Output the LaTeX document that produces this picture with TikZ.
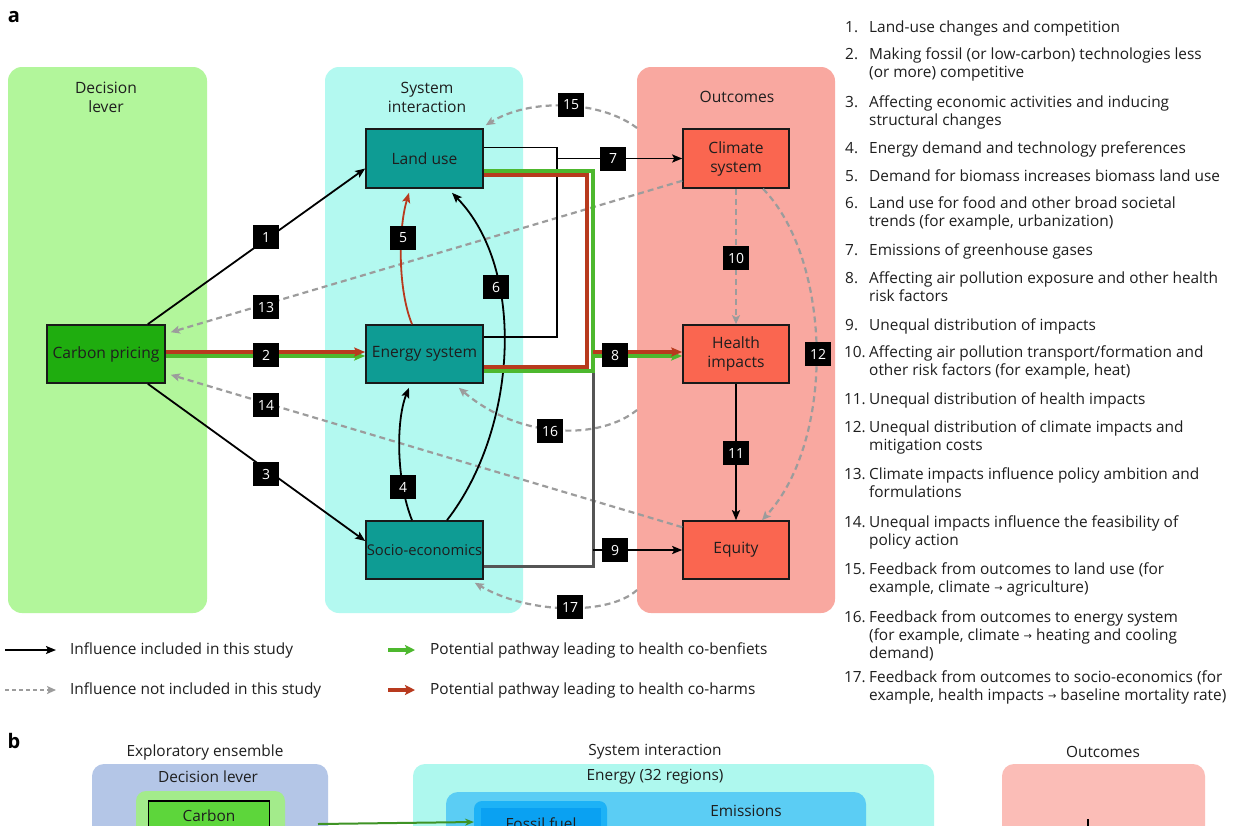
\documentclass[tikz,border=0pt]{standalone}
\usepackage{fontspec}
\setmainfont{Open Sans}
\newfontfamily\symf{DejaVu Sans}
\usetikzlibrary{arrows.meta,calc}
\newcommand\myfs{\fontsize{15.4}{18}\selectfont}
\newcommand\boxfs{\fontsize{15.6}{19}\selectfont}
\newcommand\labfs{\fontsize{14}{14}\selectfont}
\newcommand\legfs{\fontsize{15.4}{18}\selectfont}
\newcommand\panfs{\fontsize{20}{20}\selectfont\bfseries}
\newcommand\rarr{{\symf\fontsize{10}{10}\selectfont\raisebox{1pt}{→}}}
\definecolor{lvbg}{HTML}{B2F69B}
\definecolor{sibg}{HTML}{B3F9F0}
\definecolor{oubg}{HTML}{F9A8A0}
\definecolor{cpfill}{HTML}{1FAD0F}
\definecolor{sysbox}{HTML}{0E9C94}
\definecolor{outbox}{HTML}{FA6650}
\definecolor{harm}{HTML}{B83A1E}
\definecolor{bene}{HTML}{4DB82E}
\definecolor{dgray}{HTML}{9C9C9C}
\definecolor{mgray}{HTML}{555555}
\definecolor{txtc}{HTML}{1E1E1E}
\definecolor{bgblue}{HTML}{B4C6E7}
\definecolor{bglgreen}{HTML}{A3EB8B}
\definecolor{bcarbon}{HTML}{5DD63B}
\definecolor{bcyan}{HTML}{AEF8EE}
\definecolor{bblue}{HTML}{5BCDF4}
\definecolor{bfossa}{HTML}{1DB2F6}
\definecolor{bfossb}{HTML}{0AA1F2}
\definecolor{bpink}{HTML}{FBBDB7}
\tikzset{
  colbg/.style={rounded corners=14pt, inner sep=0pt, outer sep=0pt},
  coltitle/.style={font=\boxfs, align=center, text=txtc},
  sysnode/.style={draw=black!90, line width=1.6pt, fill=sysbox, minimum width=117pt, minimum height=58pt, inner sep=0pt, font=\boxfs, text=txtc, align=center},
  outnode/.style={sysnode, fill=outbox, minimum width=106pt},
  lab/.style={fill=black, text=white, minimum width=26pt, minimum height=24pt, inner sep=0pt, font=\labfs},
  arr/.style={line width=1.8pt, -{Stealth[length=10pt,width=8pt,inset=2pt]}},
  plainln/.style={line width=1.8pt},
  dsh/.style={draw=dgray, line width=2.2pt, dash pattern=on 6pt off 4pt, -{Stealth[length=9pt,width=8pt,inset=2pt]}},
  harmln/.style={draw=harm, line width=3.2pt},
  beneln/.style={draw=bene, line width=3.2pt},
  listtxt/.style={font=\myfs, text=txtc, inner sep=0pt, anchor=base west},
  legtxt/.style={font=\legfs, text=txtc, inner sep=0pt, anchor=west},
  btxt/.style={font=\myfs, text=txtc, inner sep=0pt}
}
\newcommand\Li[3]{\node[listtxt] (#1) at (869,#2) {#3};}
\newcommand\Ln[3]{\node[listtxt] (#1) at (845,#2) {#3};}
\newcommand\Lnn[3]{\node[listtxt, anchor=base east] (#1) at (866,#2) {#3};}
\begin{document}
\begin{tikzpicture}[x=1pt,y=-1pt]
\useasboundingbox (0,0) rectangle (1244,825);
\clip (0,0) rectangle (1244,825);
\fill[white] (0,0) rectangle (1244,825);

% panel label
\node[font=\panfs, inner sep=0pt] (pa) at (14,17) {a};

% column backgrounds
\node[colbg, fill=lvbg, minimum width=199pt, minimum height=546pt] (lvcol) at (107.5,340) {};
\node[colbg, fill=sibg, minimum width=198pt, minimum height=546pt] (sicol) at (424,340) {};
\node[colbg, fill=oubg, minimum width=198pt, minimum height=546pt] (oucol) at (736,340) {};
\node[coltitle] (lvt) at (106,97) {Decision\\lever};
\node[coltitle] (sit) at (427,97) {System\\interaction};
\node[coltitle] (out) at (737,97) {Outcomes};

% main nodes
\path (106,354) node[sysnode, fill=cpfill, minimum width=118pt] (cp) {Carbon pricing};
\path (424.5,158.5) node[sysnode, minimum height=59pt] (land) {Land use};
\path (424.5,354) node[sysnode] (energy) {Energy system};
\path (424.5,550) node[sysnode, font=\fontsize{14.8}{18}\selectfont] (socio) {Socio-economics};
\path (736,158.5) node[outnode, minimum height=59pt] (climate) {Climate\\system};
\path (736,354) node[outnode] (health) {Health\\impacts};
\path (736,550) node[outnode] (equity) {Equity};

% coordinates for free ends
\coordinate (o15) at (637,128);
\coordinate (o16) at (637,410);
\coordinate (o17) at (637,590);
\coordinate (j7) at (557,158.5);
\coordinate (j8g) at (593,356);
\coordinate (j8r) at (593,352);
\coordinate (j9) at (593,550);

% dashed influences (not included)
\draw[dsh] ([yshift=8pt]climate.south west) -- ([xshift=5pt,yshift=-8pt]cp.north east);
\draw[dsh] ([yshift=-7pt]equity.north west) -- ([xshift=5pt,yshift=9pt]cp.south east);
\draw[dsh] (o15) .. controls (600,100) and (530,98) .. ([xshift=2pt,yshift=3pt]land.north east);
\draw[dsh] (o16) .. controls (600,440) and (520,440) .. ([xshift=-25pt,yshift=-4pt]energy.south east);
\draw[dsh] (o17) .. controls (610,615) and (530,615) .. ([xshift=-9pt,yshift=-3pt]socio.south east);
\draw[dsh] (climate.south) -- (health.north);
\draw[dsh] ([xshift=27pt]climate.south) .. controls (832,260) and (836,440) .. ([xshift=26pt]equity.north);

% included influences
\draw[arr] ([xshift=-18pt]cp.north east) -- ([yshift=-10pt]land.west);
\draw[arr] ([xshift=-18pt]cp.south east) -- ([yshift=9pt]socio.west);
\draw[arr] ([xshift=-12.5pt]socio.north) .. controls (396,480) and (396,420) .. ([xshift=-15.5pt,yshift=-4pt]energy.south);
\draw[line width=1.8pt, draw=harm, -{Stealth[length=10pt,width=8pt,inset=2pt]}] ([xshift=-12.5pt]energy.north) .. controls (398,290) and (398,230) .. ([xshift=-15.5pt,yshift=-4pt]land.south);
\draw[arr] ([xshift=22.5pt]socio.north) .. controls (517,430) and (527,270) .. ([xshift=27.5pt,yshift=-4pt]land.south);

% 7 bracket
\draw[plainln] ([yshift=11pt]land.east) -- (557,147.5) -- (557,337) -- ([yshift=17pt]energy.east);
\draw[arr] (j7) -- (climate.west);

% 9 bracket (gray)
\draw[draw=mgray, line width=3pt] ([yshift=-16pt]socio.east) -- (593,566) -- (593,370);
\draw[arr] (j9) -- (equity.west);

% 8 pathways
\draw[beneln] ([yshift=-12.5pt]land.east) -- (593,171) -- (593,371) -- ([yshift=-17pt]energy.east);
\draw[harmln] ([yshift=-16.5pt]land.east) -- (587,175) -- (587,367) -- ([yshift=-13pt]energy.east);
\draw[beneln, -{Stealth[length=11pt,width=9pt,inset=2pt]}] (j8g) -- ([yshift=-2pt]health.west);
\draw[harmln, -{Stealth[length=11pt,width=9pt,inset=2pt]}] (j8r) -- ([yshift=2pt]health.west);

% 2 pathway
\draw[beneln, -{Stealth[length=11pt,width=9pt,inset=2pt]}] ([yshift=-2pt]cp.east) -- ([yshift=-2pt]energy.west);
\draw[harmln, -{Stealth[length=11pt,width=9pt,inset=2pt]}] ([yshift=2pt]cp.east) -- ([yshift=2pt]energy.west);

% 11
\draw[arr] (health.south) -- (equity.north);

% labels
\node[lab] (l1) at (266,237) {1};
\node[lab] (l2) at (266,355) {2};
\node[lab] (l3) at (266,474) {3};
\node[lab] (l4) at (403,487) {4};
\node[lab] (l5) at (403,238) {5};
\node[lab] (l6) at (496,287) {6};
\node[lab] (l7) at (613,158.5) {7};
\node[lab] (l8) at (615,355) {8};
\node[lab] (l9) at (615,550) {9};
\node[lab] (l10) at (736,258) {10};
\node[lab] (l11) at (736,453) {11};
\node[lab] (l12) at (818,354) {12};
\node[lab] (l13) at (266,307) {13};
\node[lab] (l14) at (266,405) {14};
\node[lab] (l15) at (571,105) {15};
\node[lab] (l16) at (550,431) {16};
\node[lab] (l17) at (570,607) {17};

% legend
\coordinate (g1a) at (5,650); \coordinate (g1b) at (56,650);
\coordinate (g2a) at (5,690); \coordinate (g2b) at (56,690);
\coordinate (g3a) at (388,650); \coordinate (g3b) at (415,650);
\coordinate (g4a) at (388,690); \coordinate (g4b) at (415,690);
\draw[arr, line width=1.6pt] (g1a) -- (g1b);
\draw[dsh, line width=1.8pt, dash pattern=on 4pt off 3pt] (g2a) -- (g2b);
\draw[draw=bene, line width=4pt, -{Stealth[length=10pt,width=10pt,inset=2pt]}] (g3a) -- (g3b);
\draw[draw=harm, line width=4pt, -{Stealth[length=10pt,width=10pt,inset=2pt]}] (g4a) -- (g4b);
\node[legtxt] (gt1) at (70,650) {Influence included in this study};
\node[legtxt] (gt2) at (70,690) {Influence not included in this study};
\node[legtxt] (gt3) at (430,650) {Potential pathway leading to health co-benfiets};
\node[legtxt] (gt4) at (430,690) {Potential pathway leading to health co-harms};

% numbered list
\Ln{n1}{32}{1.}   \Li{t1}{32}{Land-use changes and competition}
\Ln{n2}{59}{2.}   \Li{t2a}{59}{Making fossil (or low-carbon) technologies less}
                  \Li{t2b}{77}{(or more) competitive}
\Ln{n3}{107}{3.}  \Li{t3a}{107}{Affecting economic activities and inducing}
                  \Li{t3b}{125}{structural changes}
\Ln{n4}{153}{4.}  \Li{t4}{153}{Energy demand and technology preferences}
\Ln{n5}{181}{5.}  \Li{t5}{181}{Demand for biomass increases biomass land use}
\Ln{n6}{208}{6.}  \Li{t6a}{208}{Land use for food and other broad societal}
                  \Li{t6b}{226}{trends (for example, urbanization)}
\Ln{n7}{255}{7.}  \Li{t7}{255}{Emissions of greenhouse gases}
\Ln{n8}{283}{8.}  \Li{t8a}{283}{Affecting air pollution exposure and other health}
                  \Li{t8b}{301}{risk factors}
\Ln{n9}{330}{9.}  \Li{t9}{330}{Unequal distribution of impacts}
\Lnn{n10}{357}{10.} \Li{t10a}{357}{Affecting air pollution transport/formation and}
                  \Li{t10b}{375}{other risk factors (for example, heat)}
\Lnn{n11}{404}{11.} \Li{t11}{404}{Unequal distribution of health impacts}
\Lnn{n12}{432}{12.} \Li{t12a}{432}{Unequal distribution of climate impacts and}
                  \Li{t12b}{450}{mitigation costs}
\Lnn{n13}{479}{13.} \Li{t13a}{479}{Climate impacts influence policy ambition and}
                  \Li{t13b}{497}{formulations}
\Lnn{n14}{527}{14.} \Li{t14a}{527}{Unequal impacts influence the feasibility of}
                  \Li{t14b}{545}{policy action}
\Lnn{n15}{574}{15.} \Li{t15a}{574}{Feedback from outcomes to land use (for}
                  \Li{t15b}{592}{example, climate \rarr\ agriculture)}
\Lnn{n16}{622}{16.} \Li{t16a}{622}{Feedback from outcomes to energy system}
                  \Li{t16b}{640}{(for example, climate \rarr\ heating and cooling}
                  \Li{t16c}{658}{demand)}
\Lnn{n17}{682}{17.} \Li{t17a}{682}{Feedback from outcomes to socio-economics (for}
                  \Li{t17b}{700}{example, health impacts \rarr\ baseline mortality rate)}

% panel b (cropped)
\node[font=\panfs, inner sep=0pt] (pb) at (14,741) {b};
\node[btxt] (bt1) at (205,752) {Exploratory ensemble};
\node[btxt] (bt2) at (655,752) {System interaction};
\node[btxt] (bt3) at (1103,752) {Outcomes};
\fill[bgblue, rounded corners=12pt] (92,764) rectangle (328,900);
\node[btxt] (bdl) at (208,777) {Decision lever};
\fill[bglgreen, rounded corners=10pt] (136,791) rectangle (285,900);
\node[draw=black, line width=1.8pt, fill=bcarbon, minimum width=121pt, minimum height=60pt, anchor=north, inner sep=0pt] (bcarb) at (209,800) {};
\node[btxt] (bcarbt) at (209,815.5) {Carbon};
\fill[bcyan, rounded corners=12pt] (413,764) rectangle (934,900);
\node[btxt] (ben) at (655,777) {Energy (32 regions)};
\fill[bblue, rounded corners=12pt] (446,792) rectangle (866,900);
\node[btxt] (bem) at (746,811) {Emissions};
\fill[bfossa, rounded corners=8pt] (474,801) rectangle (607,900);
\fill[bfossb] (481,808) rectangle (601,900);
\node[btxt] (bff) at (541,824) {Fossil fuel};
\fill[bpink, rounded corners=12pt] (1002,764) rectangle (1205,900);
\coordinate (bga) at (318,824); \coordinate (bgb) at (474,822);
\draw[draw=bene!80!black, line width=2pt, -{Stealth[length=9pt,width=7pt]}] (bga) -- (bgb);
\coordinate (bta) at (1088,819); \coordinate (btb) at (1088,830);
\draw[line width=1.5pt] (bta) -- (btb);
\end{tikzpicture}
\end{document}
